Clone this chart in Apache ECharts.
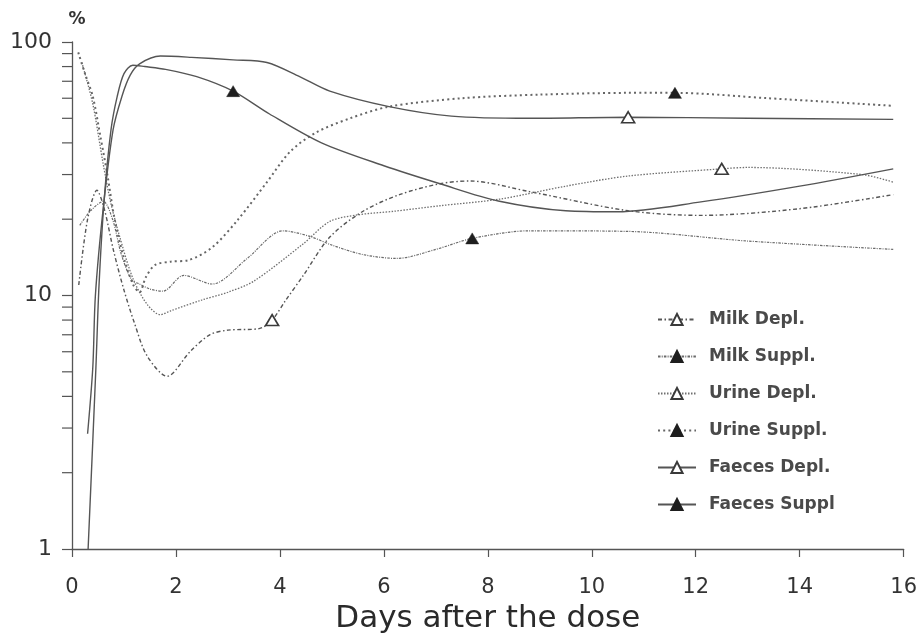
<!DOCTYPE html>
<html><head><meta charset="utf-8">
<script src="https://cdn.jsdelivr.net/npm/echarts@6/dist/echarts.min.js"></script>
<style>html,body{margin:0;padding:0;background:#fff}#c{width:920px;height:639px}</style>
</head><body><div id="c"></div>
<script>
// ---- data (x = days after the dose, y = %) ----
const milkDeplDays = [0.13,0.3,0.48,0.62,0.8,1.0,1.2,1.44,1.83,2.27,2.65,3.0,3.6,3.85,4.1,4.45,4.96,5.6,6.3,7.08,7.65,8.8,10.7,12.1,14,15.8];
const milkDeplPct  = [11,20,26,22,15,10.5,7.8,5.8,4.8,6.0,7.0,7.3,7.4,8.0,9.5,12,17,21.5,25,27.6,28.3,25.7,21.6,20.7,22,25];
const milkDeplMark = 13;

const milkSupplDays = [0.15,0.35,0.6,0.78,0.95,1.15,1.3,1.5,1.75,2.15,2.7,3.37,4.06,4.58,5.0,5.6,6.25,7.0,7.7,8.8,10.7,13,15.8];
const milkSupplPct  = [18.9,21.5,23.5,20,14.5,11.5,11.1,10.6,10.4,12,11.1,14,18,17.1,15.8,14.5,14,15.2,16.8,18,17.9,16.4,15.2];
const milkSupplMark = 18;

const urineDeplDays = [0.19,0.4,0.6,0.75,0.92,1.17,1.45,1.7,1.9,2.5,3.0,3.5,4.45,4.96,5.5,6.2,7.08,8.23,9.5,10.7,12.5,13,15.2,15.8];
const urineDeplPct  = [83,57,33,23,17,11.7,9.2,8.4,8.7,9.6,10.3,11.4,16,19.6,20.8,21.5,22.6,24,27,29.6,31.6,32,30,28];
const urineDeplMark = 20;

const urineSupplDays = [0.12,0.25,0.4,0.55,0.68,0.82,1.0,1.18,1.3,1.42,1.6,1.9,2.25,2.7,3.2,3.75,4.2,4.7,5.35,6.1,7.5,9,10.7,11.6,13.4,15.8];
const urineSupplPct  = [91,75,61,42,30,20,14,11,10.3,11.8,13.2,13.6,13.8,15.5,20,28,37,44,50,55.6,60,62,63,63,60,56];
const urineSupplMark = 23;

const faecesDeplDays = [0.3,0.4,0.45,0.6,0.79,0.96,1.12,1.3,1.7,2.3,3.1,3.75,4.38,4.96,6.1,7.3,8.8,10.7,13,15.8];
const faecesDeplPct  = [2.85,5.2,10,22,45,61,74,82,88,87,85,83,73,64,55.6,51,50,50.5,50,49.5];
const faecesDeplMark = 17;

const faecesSupplDays = [0.31,0.46,0.52,0.62,0.75,0.87,1.0,1.17,1.4,1.8,2.4,3.1,3.8,4.8,6.0,7.08,8.2,9.5,10.5,12.1,14,15.8];
const faecesSupplPct  = [1.0,5.2,11,24,45,61,75,81,80,78,73,64,52,40,32.5,27.6,23.6,21.6,21.4,23.4,27,31.6];
const faecesSupplMark = 11;

const xTickValues = [0,2,4,6,8,10,12,14,16];
const yMinorTicks = [2,3,4,5,6,7,8,9,20,30,40,50,60,70,80,90];
// ----------------------------------------------------------------------

const chart = echarts.init(document.getElementById('c'), null, {renderer:'canvas'});
const FONT = 'DejaVu Sans';

function build(name, xs, ys, markIdx, filled, dash, width, color, z) {
  const data = xs.map((x, i) => i === markIdx
    ? {value: [x, ys[i]]}
    : {value: [x, ys[i]], symbol: 'none'});
  return {
    type: 'line', name, data, z,
    smooth: 0.3,
    symbol: 'triangle', symbolSize: [13, 11], showSymbol: true,
    lineStyle: {type: dash, width, color},
    itemStyle: filled
      ? {color: '#1e1e1e', borderColor: '#1e1e1e', borderWidth: 0.5}
      : {color: '#ffffff', borderColor: '#3a3a3a', borderWidth: 1.6},
    emphasis: {disabled: true},
    silent: true
  };
}

const option = {
  animation: false,
  backgroundColor: '#ffffff',
  grid: {left: 72, right: 16, top: 42, bottom: 86, containLabel: false},
  xAxis: {
    type: 'value', min: 0, max: 16, interval: 2,
    name: 'Days after the dose', nameLocation: 'middle', nameGap: 54,
    nameTextStyle: {fontFamily: FONT, fontSize: 31, color: '#2a2a2a'},
    axisLine: {show: true, lineStyle: {color: '#555', width: 1.3}},
    axisTick: {show: true, inside: false, length: 8, lineStyle: {color: '#555', width: 1.2}},
    axisLabel: {fontFamily: FONT, fontSize: 21, color: '#333', margin: 28,
      formatter: v => xTickValues.includes(v) ? String(v) : ''},
    splitLine: {show: false}
  },
  yAxis: {
    type: 'log', logBase: 10, min: 1, max: 100,
    name: '%', nameLocation: 'end', nameGap: 14,
    nameTextStyle: {fontFamily: FONT, fontSize: 17, fontWeight: 'bold', color: '#333', padding: [0, 0, 0, 10]},
    axisLine: {show: true, lineStyle: {color: '#555', width: 1.3}},
    axisTick: {show: true, inside: false, length: 10, lineStyle: {color: '#555', width: 1.2}},
    axisLabel: {fontFamily: FONT, fontSize: 22, color: '#333', margin: 20},
    splitLine: {show: false},
    minorTick: {show: false}
  },
  legend: {
    orient: 'vertical', left: 652, top: 306,
    itemWidth: 38, itemHeight: 14, itemGap: 20,
    data: ['Milk Depl.', 'Milk Suppl.', 'Urine Depl.', 'Urine Suppl.', 'Faeces Depl.', 'Faeces Suppl'],
    textStyle: {fontFamily: FONT, fontSize: 17, fontWeight: 'bold', color: '#4a4a4a', padding: [0, 0, 0, 8]},
    selectedMode: false
  },
  series: [
    build('Milk Depl.', milkDeplDays, milkDeplPct, milkDeplMark, false, [4, 2.5, 1.5, 2.5], 1.4, '#555', 3),
    build('Milk Suppl.', milkSupplDays, milkSupplPct, milkSupplMark, true, [2.5, 1.2, 1, 1.2], 1.2, '#6a6a6a', 3),
    build('Urine Depl.', urineDeplDays, urineDeplPct, urineDeplMark, false, [1.5, 1.5], 1.3, '#707070', 3),
    build('Urine Suppl.', urineSupplDays, urineSupplPct, urineSupplMark, true, [2, 3.2], 2, '#666', 3),
    build('Faeces Depl.', faecesDeplDays, faecesDeplPct, faecesDeplMark, false, 'solid', 1.4, '#555', 4),
    build('Faeces Suppl', faecesSupplDays, faecesSupplPct, faecesSupplMark, true, 'solid', 1.4, '#555', 4),
    {
      type: 'custom', name: 'minorTicks', silent: true, clip: false, z: 5,
      data: yMinorTicks.map(v => [0, v]),
      renderItem: (params, api) => {
        const p = api.coord([0, api.value(1)]);
        return {type: 'line', shape: {x1: p[0] - 10, y1: p[1], x2: p[0], y2: p[1]},
          style: {stroke: '#555', lineWidth: 1.2}};
      }
    }
  ]
};
chart.setOption(option);
</script>
</body></html>
